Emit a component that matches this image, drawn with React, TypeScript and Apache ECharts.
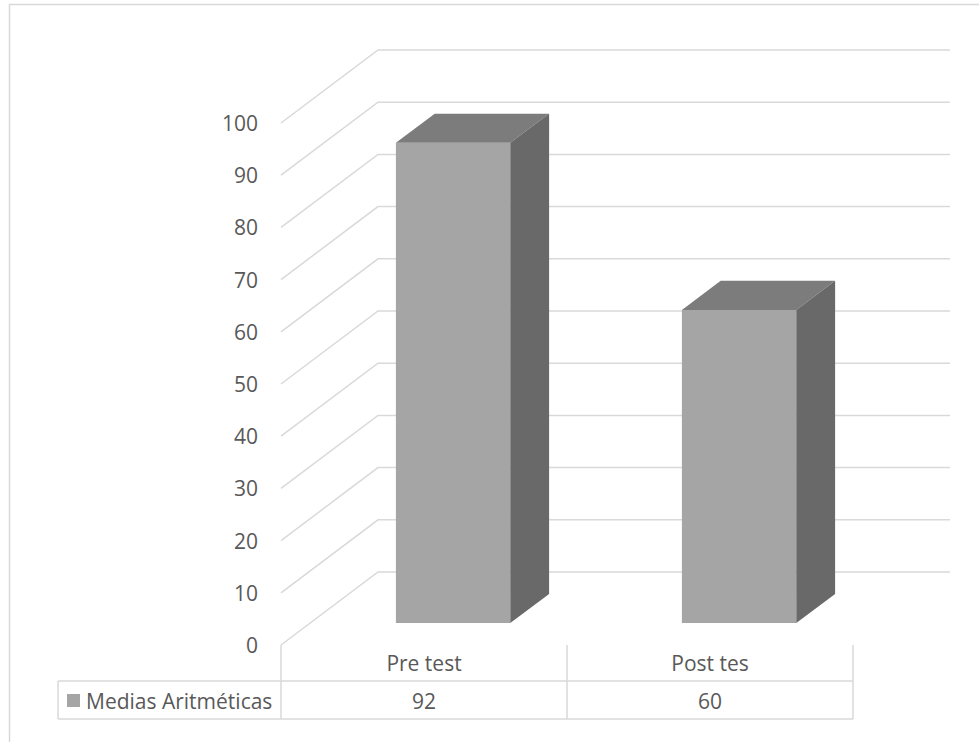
import React, { useEffect, useRef } from 'react';
import * as echarts from 'echarts';

// Categories, series and values
const categories = ['Pre test', 'Post tes'];
const seriesName = 'Medias Aritméticas';
const values = [92, 60];

// Value axis range
const axisMin = 0;
const axisMax = 100;
const axisStep = 10;

// Layout of the front plane of the 3D box and its depth vector
const GRID = { left: 281, top: 123, width: 572, height: 522 };
const DEPTH = { dx: 97, dy: -73 };
const BAR_FRONT = 0.3; // depth at which the bar's front face sits
const BAR_DEPTH = 0.4; // depth of the bar body
const BAR_WIDTH = 0.4; // share of the category band

const FONT = '"Open Sans", Lato, sans-serif';
const FONT_SIZE = 21;
const TEXT = '#595959';
const LINE = '#D9D9D9';
const FRONT = '#A5A5A5';
const TOP = '#7C7C7C';
const SIDE = '#696969';

const TABLE = { headerBottom: 681, rowBottom: 719, legendLeft: 58 };

export default function App() {
  const ref = useRef<HTMLDivElement>(null);

  useEffect(() => {
    if (!ref.current) return;
    const chart = echarts.init(ref.current, undefined, { renderer: 'svg' });

    const ticks: number[][] = [];
    for (let v = axisMin; v <= axisMax; v += axisStep) ticks.push([0, v]);

    const gridRight = GRID.left + GRID.width;
    const rowMid = (TABLE.headerBottom + TABLE.rowBottom) / 2 + 1;

    chart.setOption({
      animation: false,
      grid: { left: GRID.left, top: GRID.top, width: GRID.width, height: GRID.height },
      xAxis: {
        type: 'category',
        data: categories,
        axisLine: { show: false },
        axisTick: { show: false },
        splitLine: { show: false },
        axisLabel: { color: TEXT, fontSize: FONT_SIZE, fontFamily: FONT, margin: 7 },
      },
      yAxis: {
        type: 'value',
        min: axisMin,
        max: axisMax,
        interval: axisStep,
        axisLine: { show: false },
        axisTick: { show: false },
        splitLine: { show: false },
        axisLabel: {
          color: TEXT,
          fontSize: FONT_SIZE,
          fontFamily: FONT,
          margin: 23,
          padding: [4, 0, 0, 0],
        },
      },
      series: [
        {
          // gridlines: side wall diagonal + back wall horizontal
          type: 'custom',
          name: 'grid',
          silent: true,
          z: 1,
          data: ticks,
          renderItem: (params: any, api: any) => {
            const y = api.coord([0, api.value(1)])[1];
            const cs = params.coordSys;
            const x0 = cs.x;
            const x1 = cs.x + cs.width;
            return {
              type: 'polyline',
              shape: {
                points: [
                  [x0, y],
                  [x0 + DEPTH.dx, y + DEPTH.dy],
                  [x1 + DEPTH.dx, y + DEPTH.dy],
                ],
              },
              style: { stroke: LINE, lineWidth: 1.5, fill: null },
            };
          },
        },
        {
          type: 'custom',
          name: seriesName,
          z: 2,
          data: values.map((v, i) => [i, v]),
          renderItem: (_params: any, api: any) => {
            const i = api.value(0);
            const v = api.value(1);
            const [cx, y0] = api.coord([i, 0]);
            const y1 = api.coord([i, v])[1];
            const w = api.size([1, 0])[0] * BAR_WIDTH;
            const fx = DEPTH.dx * BAR_FRONT;
            const fy = DEPTH.dy * BAR_FRONT;
            const bx = DEPTH.dx * BAR_DEPTH;
            const by = DEPTH.dy * BAR_DEPTH;
            const l = cx - w / 2 + fx;
            const r = cx + w / 2 + fx;
            const b = y0 + fy;
            const t = y1 + fy;
            return {
              type: 'group',
              children: [
                { type: 'polygon', shape: { points: [[l, b], [r, b], [r, t], [l, t]] }, style: { fill: FRONT } },
                { type: 'polygon', shape: { points: [[l, t], [r, t], [r + bx, t + by], [l + bx, t + by]] }, style: { fill: TOP } },
                { type: 'polygon', shape: { points: [[r, b], [r + bx, b + by], [r + bx, t + by], [r, t]] }, style: { fill: SIDE } },
              ],
            };
          },
        },
        {
          // data table: value cells and column separators
          type: 'custom',
          name: 'table',
          silent: true,
          z: 3,
          data: values.map((v, i) => [i, v]),
          renderItem: (params: any, api: any) => {
            const i = api.value(0);
            const v = api.value(1);
            const cx = api.coord([i, 0])[0];
            const band = api.size([1, 0])[0];
            const top = params.coordSys.y + params.coordSys.height;
            const children: any[] = [
              {
                type: 'line',
                shape: { x1: cx - band / 2, y1: top, x2: cx - band / 2, y2: TABLE.rowBottom },
                style: { stroke: LINE, lineWidth: 1.5 },
              },
              {
                type: 'text',
                x: cx,
                y: rowMid,
                style: {
                  text: String(v),
                  fill: TEXT,
                  fontSize: FONT_SIZE,
                  fontFamily: FONT,
                  align: 'center',
                  verticalAlign: 'middle',
                },
              },
            ];
            if (i === values.length - 1) {
              children.push({
                type: 'line',
                shape: { x1: cx + band / 2, y1: top, x2: cx + band / 2, y2: TABLE.rowBottom },
                style: { stroke: LINE, lineWidth: 1.5 },
              });
            }
            return { type: 'group', children };
          },
        },
      ],
      graphic: [
        {
          type: 'rect',
          shape: { x: 9.5, y: 4.5, width: 1000, height: 1000 },
          style: { fill: 'none', stroke: LINE, lineWidth: 1.5 },
          silent: true,
        },
        {
          type: 'line',
          shape: { x1: TABLE.legendLeft, y1: TABLE.headerBottom, x2: gridRight, y2: TABLE.headerBottom },
          style: { stroke: LINE, lineWidth: 1.5 },
        },
        {
          type: 'line',
          shape: { x1: TABLE.legendLeft, y1: TABLE.rowBottom, x2: gridRight, y2: TABLE.rowBottom },
          style: { stroke: LINE, lineWidth: 1.5 },
        },
        {
          type: 'line',
          shape: { x1: TABLE.legendLeft, y1: TABLE.headerBottom, x2: TABLE.legendLeft, y2: TABLE.rowBottom },
          style: { stroke: LINE, lineWidth: 1.5 },
        },
        {
          type: 'rect',
          shape: { x: 67, y: 694, width: 13, height: 13 },
          style: { fill: FRONT },
        },
        {
          type: 'text',
          x: 86,
          y: rowMid,
          style: {
            text: seriesName,
            fill: TEXT,
            fontSize: FONT_SIZE,
            fontFamily: FONT,
            align: 'left',
            verticalAlign: 'middle',
          },
        },
      ],
    });

    return () => chart.dispose();
  }, []);

  return (
    <div
      ref={ref}
      style={{ position: 'absolute', left: 0, top: 0, width: 979, height: 742, background: '#fff' }}
    />
  );
}
